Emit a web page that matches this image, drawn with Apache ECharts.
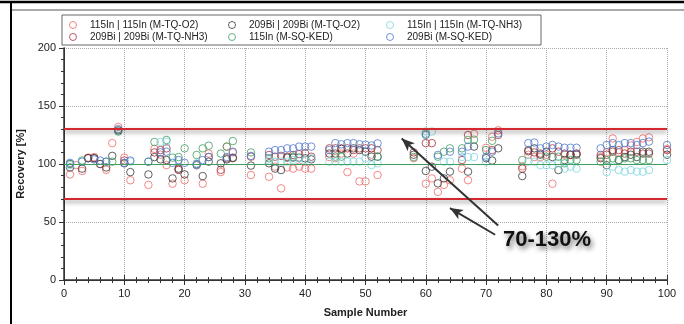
<!DOCTYPE html>
<html>
<head>
<meta charset="utf-8">
<script src="https://cdn.jsdelivr.net/npm/echarts@6/dist/echarts.min.js"></script>
<style>
  html, body { margin: 0; padding: 0; background: #fff; }
  #chart { width: 684px; height: 324px; }
</style>
</head>
<body>
<div id="chart"></div>
<script>
// [sample number, recovery %] per series
const inO2 = [[1,91],[2,99],[3,94],[4,105.5],[5,106],[6,100],[7,95],[8,118],[9,132],[10,105.5],[11,86],[14,82],[15,113],[16,108],[17,99],[18,83],[19,95],[20,86],[22,99],[23,83],[24,109],[26,93],[27,115],[28,110],[31,90.5],[34,89],[35,97.7],[36,79],[37,97],[38,96],[39,97.7],[40,96],[41,96],[44,106],[45,105],[46,109],[47,93],[48,109],[49,85],[50,85],[51,108],[52,90.5],[58,105],[60,83],[61,87.6],[62,76],[63,82],[64,86],[66,96],[67,86],[68,126],[70,114],[71,123.5],[72,129],[76,98],[77,108],[78,106],[79,106],[80,108],[81,83],[83,108],[84,108],[85,109],[89,106],[90,110],[91,122],[92,110],[93,112],[94,116],[95,119],[96,122],[97,123],[100,113]];
const biO2 = [[1,97],[3,96],[4,105],[5,105],[6,100],[7,97],[8,107],[9,129],[10,100.6],[11,93],[14,91],[15,106],[16,104],[17,103.4],[18,87.6],[19,96],[20,91],[22,100],[23,89.6],[24,102],[26,100.6],[27,104],[28,105],[31,98.6],[34,100.6],[35,96],[36,94.8],[37,105.5],[38,105.5],[39,105.5],[40,104.9],[41,104],[44,109],[45,109],[46,113],[47,109],[48,113.5],[49,112],[50,110.6],[51,106.3],[52,106.3],[58,108],[60,94],[61,97.7],[62,83.3],[63,87.6],[64,93.4],[67,93.4],[68,115],[70,105],[71,103],[72,113.5],[76,89.6],[77,111],[78,113.5],[79,108],[80,110.6],[81,106],[82,94.8],[83,103.4],[84,108],[85,108],[89,105],[90,99],[91,112],[92,103.4],[93,106],[94,108],[95,106],[96,110.6],[97,110.6],[100,108]];
const inNH3 = [[1,99],[11,102],[16,119],[17,119],[22,100.6],[34,103],[35,102],[36,102],[37,102],[38,103.4],[39,104.9],[40,103.4],[41,104.9],[44,102],[45,102],[46,102],[47,102],[48,102],[49,102],[50,104.9],[51,99],[52,100.6],[60,128],[61,128],[63,102],[64,102],[66,106],[67,106],[68,106],[70,102],[77,102],[78,102],[79,99],[80,99],[81,99],[82,100.6],[83,96],[84,97.7],[85,96],[90,93],[91,97.7],[92,94.8],[93,93.4],[94,94.8],[95,93.4],[96,93.4],[97,94.8],[100,103.4]];
const biNH3 = [[1,100],[4,105],[5,105],[10,103],[15,110],[16,112],[17,113.5],[19,95],[24,106],[26,95],[27,104.9],[28,105.5],[31,106.3],[34,107.8],[35,106.3],[36,107],[37,106.3],[38,107.8],[39,108.5],[40,109.2],[41,106.3],[44,113.5],[45,113.5],[46,113.5],[47,113.5],[48,112],[49,113.5],[50,113.5],[51,113.5],[52,112],[58,110],[60,118],[61,118],[66,103.4],[67,125],[71,112],[72,125],[76,96],[77,112],[78,110],[79,109],[81,113.5],[82,110.6],[83,109],[84,107.8],[85,109],[89,107.8],[90,108],[91,110.6],[92,112],[93,109],[94,110.6],[95,110.6],[96,109],[97,109],[100,112]];
const inKED = [[1,100],[3,103],[7,102],[8,102],[9,128],[14,102],[15,119],[17,120.7],[18,105.5],[19,106],[20,113.5],[22,107.8],[23,113.5],[24,115.8],[26,109],[27,115],[28,119.8],[31,110],[34,104.9],[38,106.3],[45,106.3],[46,106.3],[52,106.3],[58,106],[60,126],[62,106.3],[63,110.6],[64,113.5],[66,113.5],[67,120.7],[68,121],[70,112],[71,120],[76,103.4],[80,106.3],[82,106.3],[83,100.6],[84,103.4],[85,103.4],[89,102],[90,103.4],[91,104.9],[92,103.4],[93,104.9],[94,104.9],[95,103.4],[96,103.4],[97,103.4]];
const biKED = [[1,101],[3,102],[5,104],[6,103],[7,102],[9,130],[10,101],[11,103],[14,102],[16,110],[17,110.6],[18,101],[19,103.4],[20,101],[22,99],[23,103.4],[24,106],[27,106],[28,110.6],[31,107],[34,110.6],[35,112],[36,112],[37,113.5],[38,113.5],[39,115],[40,115],[41,115],[44,112],[45,118],[46,117],[47,118],[48,118],[49,117],[50,116.7],[51,116],[52,117.8],[60,125],[62,107.8],[64,110.6],[66,110.6],[67,115],[70,106.3],[71,110.6],[72,126.4],[77,118],[78,118.5],[79,113.5],[80,115],[81,116.4],[82,115],[83,114],[84,114],[85,114],[89,113.5],[90,116.4],[91,118],[92,116.4],[93,118],[94,118],[95,116.4],[96,118],[97,119.3],[100,116.4]];

const seriesNames = ['115In | 115In (M-TQ-O2)', '209Bi | 209Bi (M-TQ-NH3)', '209Bi | 209Bi (M-TQ-O2)', '115In (M-SQ-KED)', '115In | 115In (M-TQ-NH3)', '209Bi (M-SQ-KED)'];
const seriesData = [inO2, biNH3, biO2, inKED, inNH3, biKED];
const seriesColors = ['#f06a6a', '#a8343c', '#3a3a3a', '#3f9e5f', '#7fd6e0', '#4f78c8'];

const limitLines = [130, 70];
const targetLine = 100;
// annotation arrows: [from, to] in data coords
const arrows = [[[72, 47], [56, 122]], [[71.5, 39], [64, 62]]];
const annotation = '70-130%';

const chart = echarts.init(document.getElementById('chart'));

const font = 'Liberation Sans, Arial, sans-serif';

const series = seriesData.map((d, i) => ({
  name: seriesNames[i],
  type: 'scatter',
  symbol: 'circle',
  symbolSize: 7.5,
  silent: true,
  z: 3,
  itemStyle: { color: 'transparent', borderColor: seriesColors[i], borderWidth: 1 },
  data: d
}));

series.push({
  type: 'scatter',
  data: [],
  silent: true,
  markLine: {
    silent: true,
    symbol: ['none', 'none'],
    label: { show: false },
    animation: false,
    data: [
      ...limitLines.map(v => ({
        yAxis: v,
        lineStyle: { color: '#d4282e', width: 2.2, type: 'solid',
          shadowColor: 'rgba(0,0,0,0.45)', shadowBlur: 4, shadowOffsetY: 2.5 }
      })),
      { yAxis: targetLine, lineStyle: { color: '#3f9e5f', width: 1, type: 'solid' } },
      ...arrows.map(a => [
        { coord: a[0], symbol: 'none', lineStyle: { color: '#333', width: 2, type: 'solid' } },
        { coord: a[1], symbol: 'arrow', symbolSize: [8, 13] }
      ])
    ]
  }
});

const legendCol = (names, left) => ({
  data: names,
  orient: 'vertical',
  left: left,
  top: 15,
  itemWidth: 24,
  itemHeight: 7,
  itemGap: 2,
  icon: 'circle',
  itemStyle: { borderWidth: 1 },
  selectedMode: false,
  textStyle: { fontFamily: font, fontSize: 10, color: '#222' }
});

chart.setOption({
  animation: false,
  backgroundColor: '#fff',
  grid: { left: 64, right: 17, top: 48, bottom: 44 },
  legend: [
    legendCol([seriesNames[0], seriesNames[1]], 64),
    legendCol([seriesNames[2], seriesNames[3]], 223),
    legendCol([seriesNames[4], seriesNames[5]], 381)
  ],
  xAxis: [{
    type: 'value', min: 0, max: 100, interval: 10,
    name: 'Sample Number', nameLocation: 'middle', nameGap: 27,
    nameTextStyle: { fontFamily: font, fontSize: 11, fontWeight: 'bold', color: '#222' },
    axisLine: { lineStyle: { color: '#333', width: 1.5 } },
    axisTick: { inside: true, length: 5, lineStyle: { color: '#333' } },
    minorTick: { show: true, splitNumber: 5, length: 3, lineStyle: { color: '#333' } },
    axisLabel: { fontFamily: font, fontSize: 11, color: '#222', margin: 8 },
    splitLine: { show: true, lineStyle: { color: '#aaa', type: 'dotted' } }
  }, {
    type: 'value', min: 0, max: 100, interval: 10, position: 'top',
    axisLine: { show: true, lineStyle: { color: '#333' } },
    axisTick: { inside: true, length: 5, lineStyle: { color: '#333' } },
    minorTick: { show: true, splitNumber: 5, length: 3, lineStyle: { color: '#333' } },
    axisLabel: { show: false }, splitLine: { show: false }
  }],
  yAxis: [{
    type: 'value', min: 0, max: 200, interval: 50,
    name: 'Recovery [%]', nameLocation: 'middle', nameGap: 35,
    nameTextStyle: { fontFamily: font, fontSize: 11, fontWeight: 'bold', color: '#222' },
    axisLine: { show: true, lineStyle: { color: '#333', width: 1.5 } },
    axisTick: { show: true, length: 5, lineStyle: { color: '#333' } },
    minorTick: { show: true, splitNumber: 5, length: 3, lineStyle: { color: '#333' } },
    axisLabel: { fontFamily: font, fontSize: 11, color: '#222', margin: 8 },
    splitLine: { show: true, lineStyle: { color: '#aaa', type: 'dotted' } }
  }, {
    type: 'value', min: 0, max: 200, interval: 50, position: 'right',
    axisLine: { show: true, lineStyle: { color: '#333' } },
    axisTick: { show: true, inside: true, length: 5, lineStyle: { color: '#333' } },
    minorTick: { show: true, splitNumber: 5, length: 3, lineStyle: { color: '#333' } },
    axisLabel: { show: false }, splitLine: { show: false }
  }],
  graphic: [
    { type: 'line', shape: { x1: 0, y1: 2, x2: 684, y2: 2 }, style: { stroke: '#000', lineWidth: 2.5 }, silent: true },
    { type: 'line', shape: { x1: 10, y1: 10, x2: 684, y2: 10 }, style: { stroke: '#555', lineWidth: 1 }, silent: true },
    { type: 'line', shape: { x1: 11, y1: 2, x2: 11, y2: 324 }, style: { stroke: '#000', lineWidth: 2 }, silent: true },
    { type: 'rect', shape: { x: 62, y: 15, width: 479, height: 30 }, style: { fill: 'none', stroke: '#666', lineWidth: 1 }, silent: true },
    {
      type: 'text', left: 503, top: 229, silent: true, z: 10,
      style: {
        text: annotation, font: 'bold 22px ' + font, fill: '#111',
        textShadowColor: 'rgba(0,0,0,0.55)', textShadowBlur: 5, textShadowOffsetX: 2, textShadowOffsetY: 3
      }
    }
  ],
  series: series
});

window.addEventListener('resize', () => chart.resize());
</script>
</body>
</html>
